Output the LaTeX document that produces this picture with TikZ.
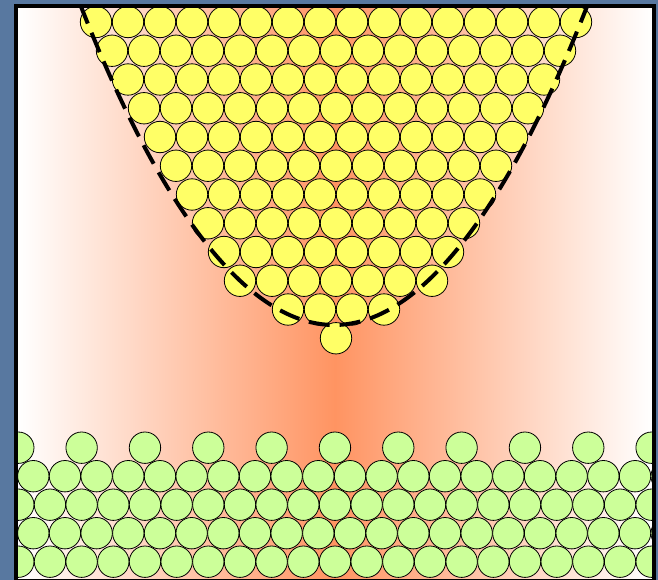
\documentclass[tikz,border=0pt]{standalone}
\definecolor{bgblue}{RGB}{88,120,160}
\definecolor{tipyellow}{RGB}{255,255,102}
\definecolor{surfgreen}{RGB}{204,255,153}
\definecolor{heat}{RGB}{255,148,98}
\tikzset{
  tipatom/.style={fill=tipyellow, draw=black, line width=0.8pt},
  surfatom/.style={fill=surfgreen, draw=black, line width=0.8pt},
  contour/.style={draw=black, line width=4pt, dash pattern=on 21pt off 10pt},
  framebox/.style={draw=black, line width=4pt}
}
\begin{document}
\begin{tikzpicture}[x=1pt,y=-1pt]
\fill[bgblue] (0,0) rectangle (658,580);
\useasboundingbox (0,0) rectangle (658,580);
\shade[left color=white,right color=white,middle color=heat] (18,8) rectangle (652,579);
\begin{scope}
\clip (18,8) rectangle (652,579);
% tip atoms (yellow)
\foreach \n in {0,...,9}{
  \pgfmathtruncatemacro\cnt{15-\n}
  \foreach \k in {0,...,\cnt}{
    \draw[tipatom] ({96+16*\n+32*\k},{22+28.75*\n}) circle[radius=15.7];
  }
}
\foreach \xx in {288,320,352,384}{\draw[tipatom] (\xx,309.5) circle[radius=15.7];}
\draw[tipatom] (336,338.25) circle[radius=15.7];
% surface atoms (green)
\foreach \k in {0,...,10}{\draw[surfatom] ({18.3+63.33*\k},447.7) circle[radius=15.7];}
\foreach \r in {1,2,3,4}{
  \pgfmathsetmacro\off{mod(\r,2)==1 ? 33.3 : 18.3}
  \foreach \k in {-1,...,21}{
    \draw[surfatom] ({\off+31.67*\k},{447.7+28.5*\r}) circle[radius=15.7];
  }
}
% contour
\draw[contour] (80,4) parabola bend (334,325) (588,4);
\end{scope}
\draw[framebox] (16,6) rectangle (654,581);
\end{tikzpicture}
\end{document}
